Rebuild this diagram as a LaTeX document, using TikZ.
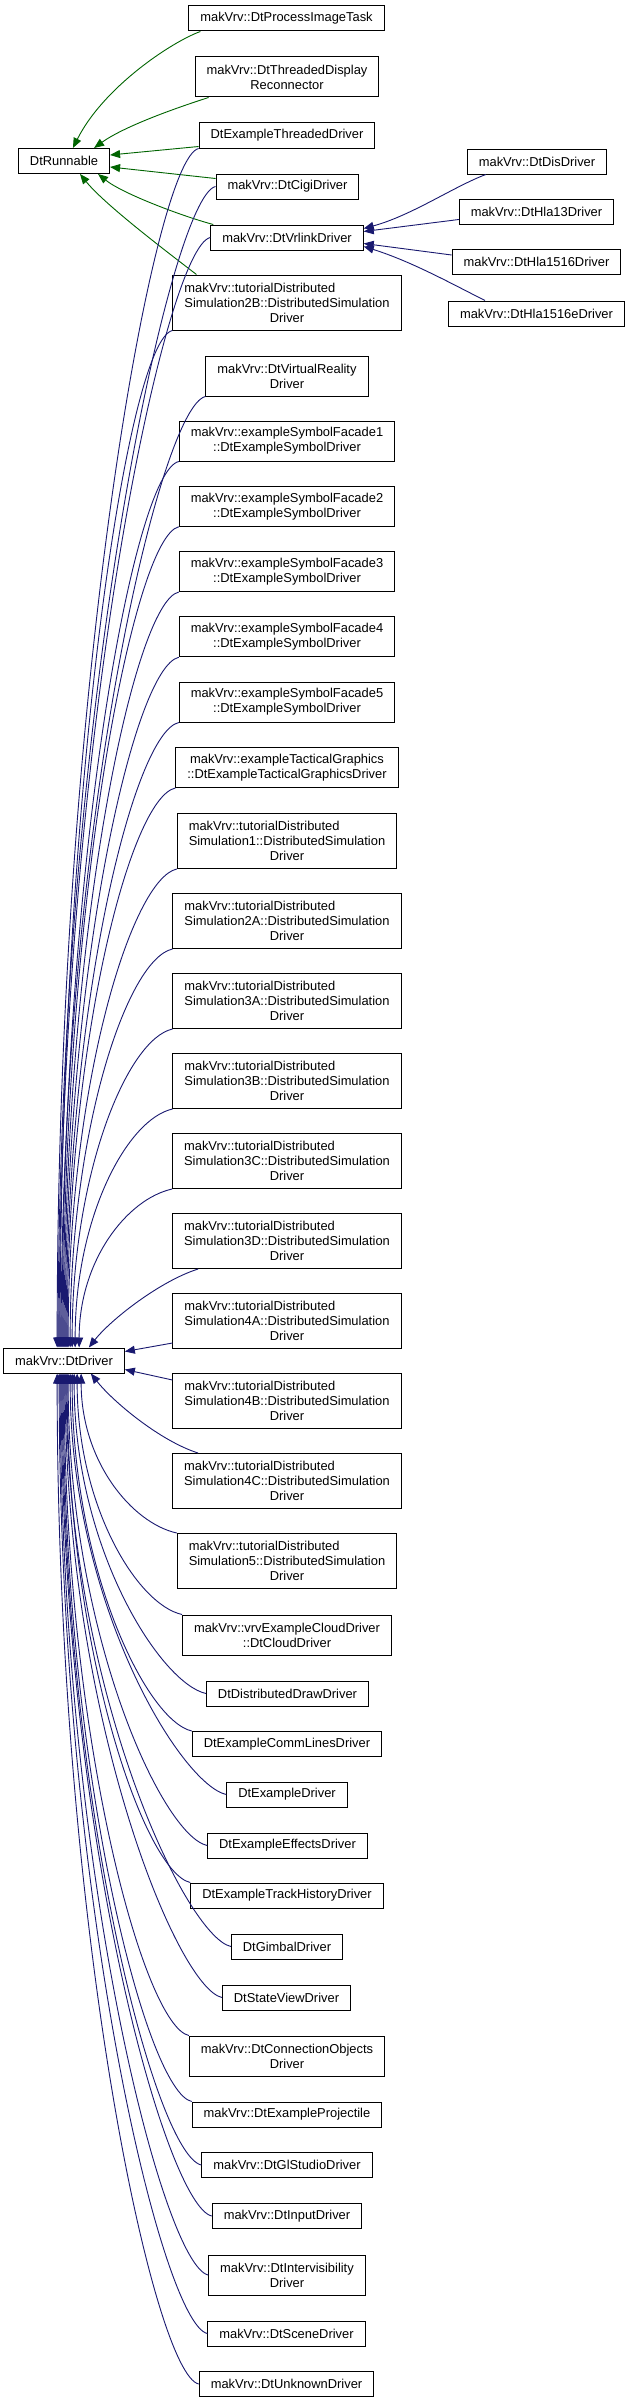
\documentclass[tikz,border=0pt]{standalone}
\usepackage{fontspec}
\setmainfont{Liberation Sans}
\usetikzlibrary{positioning,calc,arrows.meta}
\definecolor{edgeblue}{HTML}{191970}
\definecolor{edgegreen}{HTML}{006400}
\newcommand{\tutlabel}[1]{\rlap{makVrv::tutorialDistributed}\phantom{Simulation#1::DistributedSimulation}\\Simulation#1::DistributedSimulation\\Driver}

\begin{document}
\begin{tikzpicture}[x=1pt,y=-1pt,
    cls/.style={draw=black, line width=1pt, fill=white, inner xsep=11.5pt, inner ysep=2pt,
        minimum height=25pt, align=center, font=\fontsize{12.9}{15}\selectfont},
    cls2/.style={cls, minimum height=40pt},
    cls3/.style={cls, minimum height=55pt},
    blueline/.style={edgeblue, line width=0.9pt, -{Triangle[length=10pt,width=8pt]}},
    greenline/.style={edgegreen, line width=0.9pt, -{Triangle[length=10pt,width=8pt]}},
    ]
\fill[white] (0,0) rectangle (628,2403);
\useasboundingbox (0,0) rectangle (628,2403);

\node[cls] (rnb) at (64,161) {DtRunnable};
\node[cls] (drv) at (64,1360.5) {makVrv::DtDriver};

\node[cls] (pit) at (286.5,18.5) {makVrv::DtProcessImageTask};
\node[cls2] (rec) at (287,77) {makVrv::DtThreadedDisplay\\Reconnector};
\node[cls] (etd) at (287,135.5) {DtExampleThreadedDriver};
\node[cls] (cigi) at (287.5,186.5) {makVrv::DtCigiDriver};
\node[cls] (vrl) at (287,237.5) {makVrv::DtVrlinkDriver};
\node[cls3] (t2B) at (287,302.5) {\tutlabel{2B}};

\node[cls] (dis) at (537,161.5) {makVrv::DtDisDriver};
\node[cls] (h13) at (536.5,211.5) {makVrv::DtHla13Driver};
\node[cls] (h1516) at (536.5,262) {makVrv::DtHla1516Driver};
\node[cls] (h1516e) at (536.5,313.5) {makVrv::DtHla1516eDriver};

\node[cls2] (vr) at (287,376) {makVrv::DtVirtualReality\\Driver};
\foreach \i [evaluate=\i as \yy using {441+65.25*(\i-1)}] in {1,...,5}
    \node[cls2] (f\i) at (287,\yy) {makVrv::exampleSymbolFacade\i\\::DtExampleSymbolDriver};
\node[cls2] (tac) at (287,767.5) {makVrv::exampleTacticalGraphics\\::DtExampleTacticalGraphicsDriver};
\foreach \tn/\yy in {1/841,2A/921,3A/1001,3B/1081,3C/1161,3D/1241,4A/1321,4B/1401,4C/1481,5/1561}
    \node[cls3] (t\tn) at (287,\yy) {\tutlabel{\tn}};

\node[cls2] (cld) at (287,1635) {makVrv::vrvExampleCloudDriver\\::DtCloudDriver};
\node[cls] (ddd) at (287.5,1693.5) {DtDistributedDrawDriver};
\node[cls] (cml) at (287,1744) {DtExampleCommLinesDriver};
\node[cls] (exd) at (287,1794.5) {DtExampleDriver};
\node[cls] (eff) at (287.5,1845.5) {DtExampleEffectsDriver};
\node[cls] (trh) at (287,1895.5) {DtExampleTrackHistoryDriver};
\node[cls] (gim) at (287,1946.5) {DtGimbalDriver};
\node[cls] (stv) at (286.5,1997.5) {DtStateViewDriver};
\node[cls2] (cob) at (287,2056) {makVrv::DtConnectionObjects\\Driver};
\node[cls] (prj) at (287,2114.5) {makVrv::DtExampleProjectile};
\node[cls] (gls) at (287,2165) {makVrv::DtGlStudioDriver};
\node[cls] (inp) at (287,2216) {makVrv::DtInputDriver};
\node[cls2] (itv) at (287,2275) {makVrv::DtIntervisibility\\Driver};
\node[cls] (scn) at (286.5,2333.5) {makVrv::DtSceneDriver};
\node[cls] (unk) at (286.5,2384) {makVrv::DtUnknownDriver};

% DtRunnable
\draw[greenline] ($(pit.south west)+(12,0)$) .. controls +(-30,11) and +(30,-60) .. ($(rnb.north west)+(55,0)$);
\draw[greenline] ($(rec.south west)+(14,0)$) .. controls +(-25,8) and +(32,-23) .. ($(rnb.north east)+(-16,0)$);
\draw[greenline] ($(etd.south west)+(0,-2)$) -- ($(rnb.east)+(0,-6)$);
\draw[greenline] ($(cigi.west)+(0,-8)$) -- ($(rnb.east)+(0,6)$);
\draw[greenline] ($(vrl.north west)+(3,0)$) .. controls +(-30,-8) and +(25,20) .. ($(rnb.south east)+(-12,0)$);
\draw[greenline] ($(t2B.north west)+(24,0)$) .. controls +(-26,-20) and +(25,31) .. ($(rnb.south)+(16,0)$);

% DtVrlinkDriver
\draw[blueline] ($(dis.south west)+(19,0)$) .. controls +(-32,12) and +(48,-13) .. ($(vrl.east)+(0,-9)$);
\draw[blueline] ($(h13.west)+(0,8)$) -- ($(vrl.east)+(0,-6)$);
\draw[blueline] ($(h1516.west)+(0,-7)$) -- ($(vrl.east)+(0,6)$);
\draw[blueline] ($(h1516e.north west)+(37,0)$) .. controls +(-32,-16) and +(48,15) .. ($(vrl.east)+(0,9)$);

% DtDriver
\foreach \src/\sa/\tx in {etd/south west/54, cigi/west/55, vrl/west/56, t2B/south west/57,
    vr/south west/58, f1/south west/59, f2/south west/60, f3/south west/61, f4/south west/62,
    f5/south west/63, tac/south west/64, t1/south west/65, t2A/south west/67,
    t3A/south west/69, t3B/south west/72, t3C/south west/76}{
    \coordinate (tip) at ($(drv.north west)+(\tx,0)$);
    \coordinate (mid) at ($(tip)!.55!(\src.\sa)$);
    \draw[blueline] (\src.\sa) .. controls +(-45,10) and (tip |- mid) .. (tip);
}
\foreach \src/\sa/\tx in {t5/north west/78, cld/north west/74, ddd/west/71, cml/north west/69,
    exd/west/67, eff/west/65, trh/north west/64, gim/west/63, stv/west/62, cob/north west/61,
    prj/north west/60, gls/west/59, inp/west/58, itv/west/57, scn/west/56, unk/west/54}{
    \coordinate (tip) at ($(drv.south west)+(\tx,0)$);
    \coordinate (mid) at ($(tip)!.55!(\src.\sa)$);
    \draw[blueline] (\src.\sa) .. controls +(-45,-10) and (tip |- mid) .. (tip);
}
\draw[blueline] ($(t3D.south west)+(26,0)$) .. controls +(-38,12) and +(22,-28) .. ($(drv.north east)+(-36,0)$);
\draw[blueline] ($(t4A.west)+(0,22)$) -- ($(drv.east)+(0,-9)$);
\draw[blueline] ($(t4B.west)+(0,-21)$) -- ($(drv.east)+(0,9)$);
\draw[blueline] ($(t4C.north west)+(26,0)$) .. controls +(-38,-12) and +(22,28) .. ($(drv.south east)+(-34,0)$);

\end{tikzpicture}
\end{document}
